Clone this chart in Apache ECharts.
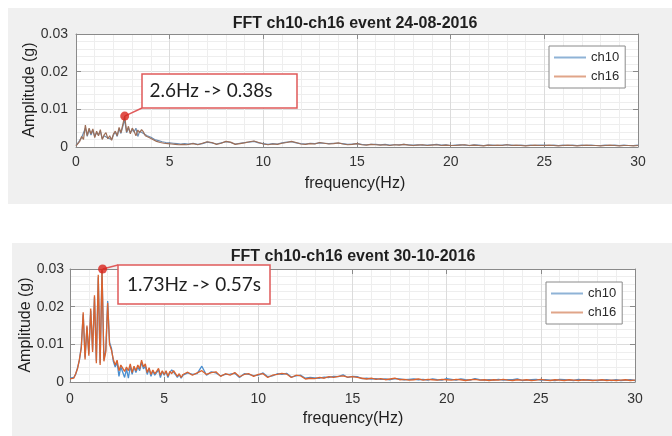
<!DOCTYPE html>
<html>
<head>
<meta charset="utf-8">
<script src="https://cdn.jsdelivr.net/npm/echarts@6/dist/echarts.min.js"></script>
<style>
  html, body { margin: 0; padding: 0; background: #fff; }
  #wrap { position: relative; width: 672px; height: 436px; overflow: hidden; }
  .panel { position: absolute; background: #f0f0f0; }
  #chart { position: absolute; left: 0; top: 0; width: 672px; height: 436px; }
</style>
</head>
<body>
<div id="wrap">
  <div class="panel" style="left:8px;top:8px;width:664px;height:196px"></div>
  <div class="panel" style="left:12px;top:243px;width:660px;height:193px"></div>
  <div id="chart"></div>
</div>
<script>
// frequency grid (Hz): fine below 6 Hz, coarser above
var freqLow = [
  0, 0.1, 0.2, 0.3, 0.4, 0.5, 0.6, 0.7, 0.8, 0.9,
  1, 1.1, 1.2, 1.3, 1.4, 1.5, 1.6, 1.7, 1.8, 1.9,
  2, 2.1, 2.2, 2.3, 2.4, 2.5, 2.6, 2.7, 2.8, 2.9,
  3, 3.1, 3.2, 3.3, 3.4, 3.5, 3.6, 3.7, 3.8, 3.9,
  4, 4.1, 4.2, 4.3, 4.4, 4.5, 4.6, 4.7, 4.8, 4.9,
  5, 5.1, 5.2, 5.3, 5.4, 5.5, 5.6, 5.7, 5.8, 5.9,
  6
];
var freqHigh = [
  6.25, 6.5, 6.75, 7, 7.25, 7.5, 7.75, 8,
  8.25, 8.5, 8.75, 9, 9.25, 9.5, 9.75, 10,
  10.25, 10.5, 10.75, 11, 11.25, 11.5, 11.75, 12,
  12.25, 12.5, 12.75, 13, 13.25, 13.5, 13.75, 14,
  14.25, 14.5, 14.75, 15, 15.25, 15.5, 15.75, 16,
  16.25, 16.5, 16.75, 17, 17.25, 17.5, 17.75, 18,
  18.25, 18.5, 18.75, 19, 19.25, 19.5, 19.75, 20,
  20.25, 20.5, 20.75, 21, 21.25, 21.5, 21.75, 22,
  22.25, 22.5, 22.75, 23, 23.25, 23.5, 23.75, 24,
  24.25, 24.5, 24.75, 25, 25.25, 25.5, 25.75, 26,
  26.25, 26.5, 26.75, 27, 27.25, 27.5, 27.75, 28,
  28.25, 28.5, 28.75, 29, 29.25, 29.5, 29.75, 30
];
var freq = freqLow.concat(freqHigh);

// event 24-08-2016
var augCh10 = [
  0.0004, 0.0010, 0.0018, 0.0025, 0.0022, 0.0050, 0.0028, 0.0046, 0.0032, 0.0044,
  0.0028, 0.0038, 0.0032, 0.0042, 0.0022, 0.0030, 0.0035, 0.0024, 0.0028, 0.0020,
  0.0032, 0.0040, 0.0028, 0.0048, 0.0036, 0.0055, 0.0072, 0.0038, 0.0050, 0.0038,
  0.0046, 0.0040, 0.0050, 0.0028, 0.0042, 0.0044, 0.0036, 0.0032, 0.0030, 0.0026,
  0.0026, 0.0022, 0.0020, 0.0016, 0.0017, 0.0013, 0.0014, 0.0011, 0.0012, 0.0010,
  0.0011, 0.0009, 0.0010, 0.0008, 0.0009, 0.0007, 0.0008, 0.0008, 0.0009, 0.0007,
  0.0008,
  0.0010, 0.0007, 0.0009, 0.0013, 0.0011, 0.0008, 0.0011, 0.0014,
  0.0012, 0.0008, 0.0010, 0.0012, 0.0013, 0.0015, 0.0011, 0.0009,
  0.0007, 0.0009, 0.0008, 0.0011, 0.0013, 0.0014, 0.0011, 0.0009,
  0.0008, 0.0010, 0.0009, 0.0011, 0.0010, 0.0009, 0.0010, 0.0010,
  0.0009, 0.0007, 0.0008, 0.0009, 0.0007, 0.0006, 0.0007, 0.0007,
  0.0006, 0.0007, 0.0005, 0.0006, 0.0006, 0.0007, 0.0006, 0.0005,
  0.0006, 0.0005, 0.0005, 0.0006, 0.0007, 0.0005, 0.0006, 0.0004,
  0.0005, 0.0006, 0.0005, 0.0004, 0.0006, 0.0005, 0.0004, 0.0005,
  0.0005, 0.0004, 0.0005, 0.0006, 0.0005, 0.0004, 0.0005, 0.0004,
  0.0005, 0.0004, 0.0005, 0.0005, 0.0004, 0.0005, 0.0004, 0.0005,
  0.0004, 0.0005, 0.0004, 0.0005, 0.0004, 0.0005, 0.0004, 0.0004,
  0.0005, 0.0004, 0.0005, 0.0004, 0.0005, 0.0004, 0.0004, 0.0005
];
var augCh16 = [
  0.0003, 0.0008, 0.0015, 0.0028, 0.0020, 0.0058, 0.0030, 0.0050, 0.0035, 0.0048,
  0.0025, 0.0042, 0.0030, 0.0046, 0.0020, 0.0032, 0.0038, 0.0022, 0.0030, 0.0018,
  0.0035, 0.0042, 0.0030, 0.0052, 0.0038, 0.0060, 0.0082, 0.0040, 0.0055, 0.0035,
  0.0050, 0.0042, 0.0030, 0.0045, 0.0038, 0.0046, 0.0040, 0.0030, 0.0033, 0.0025,
  0.0028, 0.0020, 0.0022, 0.0015, 0.0018, 0.0012, 0.0015, 0.0010, 0.0013, 0.0009,
  0.0012, 0.0008, 0.0011, 0.0007, 0.0010, 0.0006, 0.0009, 0.0007, 0.0010, 0.0006,
  0.0008,
  0.0009, 0.0006, 0.0010, 0.0014, 0.0012, 0.0007, 0.0010, 0.0015,
  0.0013, 0.0007, 0.0009, 0.0011, 0.0014, 0.0016, 0.0012, 0.0008,
  0.0006, 0.0008, 0.0007, 0.0010, 0.0012, 0.0015, 0.0012, 0.0008,
  0.0007, 0.0009, 0.0008, 0.0012, 0.0010, 0.0008, 0.0009, 0.0011,
  0.0008, 0.0006, 0.0007, 0.0009, 0.0006, 0.0005, 0.0007, 0.0006,
  0.0005, 0.0006, 0.0004, 0.0006, 0.0005, 0.0007, 0.0005, 0.0004,
  0.0005, 0.0006, 0.0004, 0.0005, 0.0006, 0.0004, 0.0005, 0.0004,
  0.0004, 0.0005, 0.0006, 0.0004, 0.0005, 0.0004, 0.0003, 0.0005,
  0.0004, 0.0005, 0.0004, 0.0006, 0.0004, 0.0005, 0.0004, 0.0003,
  0.0004, 0.0005, 0.0004, 0.0004, 0.0005, 0.0004, 0.0003, 0.0004,
  0.0005, 0.0004, 0.0003, 0.0004, 0.0005, 0.0004, 0.0004, 0.0003,
  0.0004, 0.0005, 0.0004, 0.0003, 0.0004, 0.0004, 0.0003, 0.0004
];

// event 30-10-2016
var octCh10 = [
  0.0010, 0.0011, 0.0012, 0.0020, 0.0038, 0.0058, 0.0095, 0.0180, 0.0065, 0.0145,
  0.0075, 0.0190, 0.0085, 0.0225, 0.0055, 0.0278, 0.0050, 0.0295, 0.0060, 0.0085,
  0.0215, 0.0105, 0.0090, 0.0055, 0.0040, 0.0052, 0.0015, 0.0040, 0.0045, 0.0012,
  0.0035, 0.0010, 0.0042, 0.0020, 0.0040, 0.0025, 0.0040, 0.0030, 0.0052, 0.0035,
  0.0042, 0.0020, 0.0035, 0.0015, 0.0030, 0.0018, 0.0025, 0.0033, 0.0012, 0.0028,
  0.0018, 0.0028, 0.0012, 0.0025, 0.0032, 0.0026, 0.0020, 0.0012, 0.0020, 0.0010,
  0.0018,
  0.0024, 0.0020, 0.0022, 0.0042, 0.0018, 0.0027, 0.0024, 0.0016,
  0.0020, 0.0021, 0.0023, 0.0012, 0.0022, 0.0020, 0.0017, 0.0018,
  0.0024, 0.0014, 0.0016, 0.0022, 0.0020, 0.0023, 0.0013, 0.0016,
  0.0018, 0.0010, 0.0012, 0.0011, 0.0010, 0.0013, 0.0012, 0.0015,
  0.0014, 0.0019, 0.0012, 0.0015, 0.0014, 0.0009, 0.0010, 0.0008,
  0.0009, 0.0007, 0.0008, 0.0006, 0.0009, 0.0008, 0.0006, 0.0007,
  0.0008, 0.0006, 0.0007, 0.0005, 0.0008, 0.0006, 0.0005, 0.0009,
  0.0007, 0.0005, 0.0008, 0.0006, 0.0005, 0.0009, 0.0006, 0.0005,
  0.0006, 0.0005, 0.0007, 0.0005, 0.0006, 0.0006, 0.0008, 0.0004,
  0.0005, 0.0006, 0.0007, 0.0005, 0.0006, 0.0005, 0.0004, 0.0007,
  0.0006, 0.0005, 0.0004, 0.0007, 0.0005, 0.0006, 0.0005, 0.0004,
  0.0005, 0.0006, 0.0004, 0.0006, 0.0004, 0.0005, 0.0006, 0.0004
];
var octCh16 = [
  0.0008, 0.0012, 0.0010, 0.0022, 0.0035, 0.0060, 0.0090, 0.0185, 0.0060, 0.0150,
  0.0070, 0.0195, 0.0080, 0.0230, 0.0050, 0.0285, 0.0045, 0.0300, 0.0055, 0.0080,
  0.0210, 0.0100, 0.0085, 0.0060, 0.0045, 0.0058, 0.0030, 0.0045, 0.0050, 0.0028,
  0.0040, 0.0030, 0.0048, 0.0025, 0.0042, 0.0030, 0.0045, 0.0035, 0.0058, 0.0040,
  0.0048, 0.0025, 0.0038, 0.0020, 0.0032, 0.0022, 0.0028, 0.0036, 0.0018, 0.0030,
  0.0020, 0.0030, 0.0015, 0.0028, 0.0022, 0.0030, 0.0025, 0.0015, 0.0022, 0.0012,
  0.0020,
  0.0026, 0.0018, 0.0024, 0.0030, 0.0020, 0.0025, 0.0027, 0.0015,
  0.0022, 0.0018, 0.0025, 0.0014, 0.0020, 0.0022, 0.0015, 0.0020,
  0.0022, 0.0012, 0.0018, 0.0020, 0.0023, 0.0021, 0.0012, 0.0018,
  0.0016, 0.0008, 0.0010, 0.0009, 0.0012, 0.0010, 0.0014, 0.0012,
  0.0015, 0.0016, 0.0013, 0.0014, 0.0012, 0.0010, 0.0008, 0.0010,
  0.0007, 0.0009, 0.0006, 0.0008, 0.0010, 0.0006, 0.0007, 0.0005,
  0.0006, 0.0008, 0.0005, 0.0007, 0.0006, 0.0005, 0.0007, 0.0006,
  0.0005, 0.0007, 0.0006, 0.0004, 0.0006, 0.0007, 0.0005, 0.0006,
  0.0004, 0.0006, 0.0005, 0.0007, 0.0005, 0.0004, 0.0006, 0.0005,
  0.0006, 0.0004, 0.0005, 0.0007, 0.0005, 0.0004, 0.0006, 0.0005,
  0.0004, 0.0006, 0.0005, 0.0004, 0.0006, 0.0005, 0.0004, 0.0005,
  0.0006, 0.0004, 0.0005, 0.0004, 0.0005, 0.0006, 0.0004, 0.0005
];

var peakAug = [2.6, 0.0082];
var peakOct = [1.73, 0.030];
var noteAug = '2.6Hz -> 0.38s';
var noteOct = '1.73Hz -> 0.57s';
var titleAug = 'FFT ch10-ch16 event 24-08-2016';
var titleOct = 'FFT ch10-ch16 event 30-10-2016';
var seriesNames = ['ch10', 'ch16'];

var FONT = 'Liberation Sans, Arial, sans-serif';
var BOX = '#8a8a8a';

function pairs(f, a) {
  return f.map(function (x, i) { return [x, a[i]]; });
}

function xAxes(g, margin) {
  return [{
    gridIndex: g, type: 'value', min: 0, max: 30, interval: 5, position: 'bottom',
    axisLine: { show: true, onZero: false, lineStyle: { color: BOX } },
    axisTick: { show: true, inside: true, length: 5, lineStyle: { color: BOX } },
    axisLabel: { color: '#333', fontSize: 14, fontFamily: FONT, margin: margin },
    splitLine: { show: true, lineStyle: { color: '#dcdcdc' } },
    minorTick: { show: false, splitNumber: 5 },
    minorSplitLine: { show: true, lineStyle: { color: '#eeeeee' } }
  }, {
    gridIndex: g, type: 'value', min: 0, max: 30, interval: 5, position: 'top',
    axisLine: { show: true, onZero: false, lineStyle: { color: BOX } },
    axisTick: { show: true, inside: true, length: 5, lineStyle: { color: BOX } },
    axisLabel: { show: false }, splitLine: { show: false }
  }];
}

function yAxes(g, margin) {
  return [{
    gridIndex: g, type: 'value', min: 0, max: 0.03, interval: 0.01, position: 'left',
    axisLine: { show: true, onZero: false, lineStyle: { color: BOX } },
    axisTick: { show: true, inside: true, length: 5, lineStyle: { color: BOX } },
    axisLabel: {
      color: '#333', fontSize: 14, fontFamily: FONT, margin: margin,
      formatter: function (v) { return v === 0 ? '0' : v.toFixed(2); }
    },
    splitLine: { show: true, lineStyle: { color: '#dcdcdc' } },
    minorTick: { show: false, splitNumber: 5 },
    minorSplitLine: { show: true, lineStyle: { color: '#eeeeee' } }
  }, {
    gridIndex: g, type: 'value', min: 0, max: 0.03, interval: 0.01, position: 'right',
    axisLine: { show: true, onZero: false, lineStyle: { color: BOX } },
    axisTick: { show: true, inside: true, length: 5, lineStyle: { color: BOX } },
    axisLabel: { show: false }, splitLine: { show: false }
  }];
}

function legendFor(left, top) {
  return {
    orient: 'vertical', left: left, top: top,
    padding: [5, 6, 5, 5], itemGap: 6, itemWidth: 32, itemHeight: 2, icon: 'rect',
    backgroundColor: '#fff', borderColor: BOX, borderWidth: 1,
    selectedMode: false,
    textStyle: { fontSize: 13, color: '#2a2a2a', fontFamily: FONT },
    data: [
      { name: seriesNames[0], itemStyle: { color: '#8fb3d6' } },
      { name: seriesNames[1], itemStyle: { color: '#e0a589' } }
    ]
  };
}

function line(name, data, xi, yi, color, width) {
  return {
    name: name, type: 'line', xAxisIndex: xi, yAxisIndex: yi, data: data,
    showSymbol: false, symbol: 'none', lineStyle: { color: color, width: width },
    itemStyle: { color: color }, z: 2
  };
}

function dot(p, xi, yi) {
  return {
    name: 'peak', type: 'scatter', xAxisIndex: xi, yAxisIndex: yi, data: [p],
    symbolSize: 9, itemStyle: { color: '#d8231c' }, z: 6
  };
}

var chart = echarts.init(document.getElementById('chart'));
chart.setOption({
  animation: false,
  backgroundColor: 'transparent',
  grid: [
    { left: 76, top: 34, width: 562, height: 113, show: true, backgroundColor: '#fff', borderWidth: 0 },
    { left: 70, top: 269, width: 565, height: 113, show: true, backgroundColor: '#fff', borderWidth: 0 }
  ],
  xAxis: xAxes(0, 8).concat(xAxes(1, 10)),
  yAxis: yAxes(0, 8).concat(yAxes(1, 6)),
  legend: [legendFor(549, 46), legendFor(546, 282)],
  series: [
    line('ch10', pairs(freq, augCh10), 0, 0, '#6f8db0', 1.2),
    line('ch16', pairs(freq, augCh16), 0, 0, '#9c6e57', 1.2),
    dot(peakAug, 0, 0),
    line('ch10', pairs(freq, octCh10), 2, 2, '#4a8fd0', 1.3),
    line('ch16', pairs(freq, octCh16), 2, 2, '#d9632f', 1.3),
    dot(peakOct, 2, 2)
  ]
});

// annotations, titles and axis names
var pA = chart.convertToPixel({ xAxisIndex: 0, yAxisIndex: 0 }, peakAug);
var pO = chart.convertToPixel({ xAxisIndex: 2, yAxisIndex: 2 }, peakOct);
var RED = '#e05a5a';

function txt(x, y, s, font, rot) {
  return {
    type: 'text', x: x, y: y, rotation: rot || 0, z: 10,
    style: { text: s, font: font, fill: '#1f1f1f', align: 'center', verticalAlign: 'middle' }
  };
}

chart.setOption({
  graphic: [
    { type: 'line', z: 3, shape: { x1: pA[0], y1: pA[1], x2: 142, y2: 108 }, style: { stroke: RED, lineWidth: 1.5 } },
    { type: 'rect', z: 8, shape: { x: 142, y: 74, width: 155, height: 34 }, style: { fill: '#fff', stroke: RED, lineWidth: 1.5 } },
    txt(211, 91, noteAug, '19px Lato, sans-serif'),
    { type: 'line', z: 3, shape: { x1: pO[0], y1: pO[1], x2: 118, y2: 265 }, style: { stroke: RED, lineWidth: 1.5 } },
    { type: 'rect', z: 8, shape: { x: 118, y: 265, width: 152, height: 39 }, style: { fill: '#fff', stroke: RED, lineWidth: 1.5 } },
    txt(194, 284.5, noteOct, '19px Lato, sans-serif'),
    txt(355, 24, titleAug, 'bold 16px ' + FONT),
    txt(353, 257, titleOct, 'bold 16px ' + FONT),
    txt(355, 184, 'frequency(Hz)', '16px ' + FONT),
    txt(353, 419, 'frequency(Hz)', '16px ' + FONT),
    txt(29.5, 90, 'Amplitude (g)', '16px ' + FONT, Math.PI / 2),
    txt(25.5, 325, 'Amplitude (g)', '16px ' + FONT, Math.PI / 2)
  ]
});
</script>
</body>
</html>
